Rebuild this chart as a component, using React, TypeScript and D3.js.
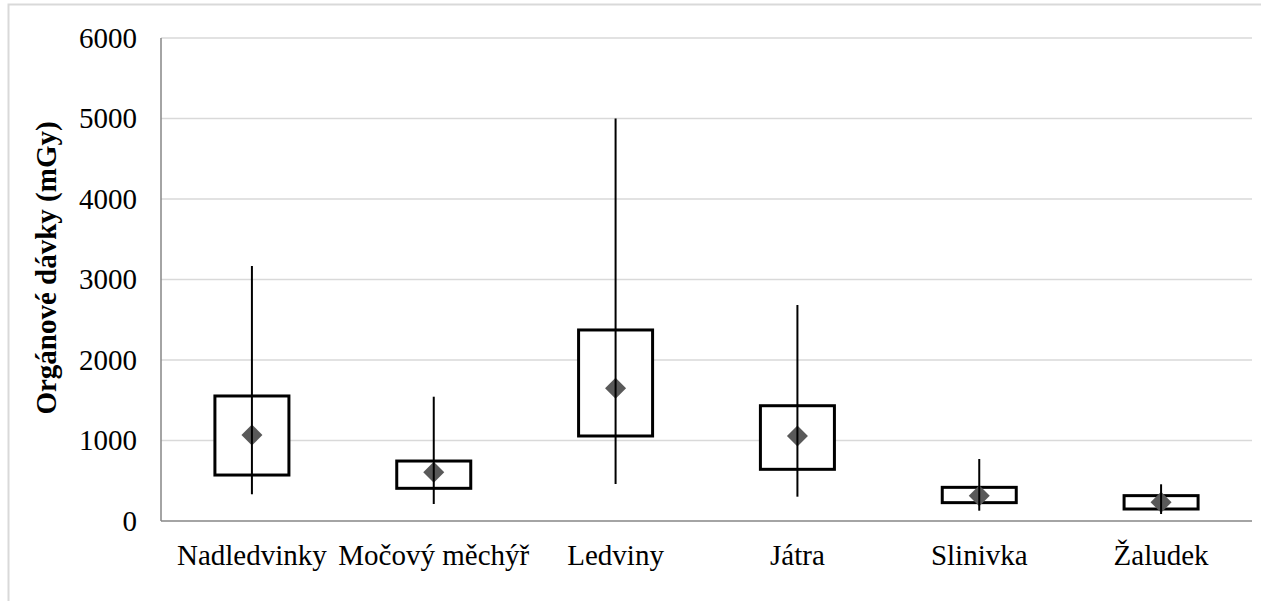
import React from "react";
import * as d3 from "d3";

const categories = ["Nadledvinky", "Močový měchýř", "Ledviny", "Játra", "Slinivka", "Žaludek"];
const minValues = [332, 211, 460, 302, 128, 87];
const q1Values = [571, 406, 1056, 642, 228, 149];
const q3Values = [1553, 745, 2373, 1432, 418, 315];
const maxValues = [3168, 1544, 5000, 2683, 770, 456];
const meanValues = [1068, 605, 1648, 1056, 315, 232];
const yTicks = [0, 1000, 2000, 3000, 4000, 5000, 6000];
const yTitle = "Orgánové dávky (mGy)";

const W = 1261;
const H = 601;
const plot = { left: 161, right: 1252, top: 38, bottom: 521 };
const FONT = "'Liberation Serif', 'Times New Roman', serif";

export default function App() {
  const x = d3.scaleBand<string>().domain(categories).range([plot.left, plot.right]).paddingInner(0).paddingOuter(0);
  const y = d3.scaleLinear().domain([0, 6000]).range([plot.bottom, plot.top]);
  const boxW = x.bandwidth() * 0.407;
  const dHalf = 10.5;

  return (
    <svg width={W} height={H} style={{ position: "absolute", left: 0, top: 0, background: "#fff" }}>
      <rect x={8.5} y={4.5} width={W + 20} height={H + 20} fill="#fff" stroke="#d9d9d9" strokeWidth={2} />
      {yTicks.map((t) =>
        t === 0 ? null : (
          <line key={"g" + t} x1={plot.left} x2={plot.right} y1={y(t)} y2={y(t)} stroke="#d9d9d9" strokeWidth={1.5} />
        )
      )}
      <line x1={plot.left} x2={plot.left} y1={plot.top} y2={plot.bottom} stroke="#868686" strokeWidth={1.5} />
      <line x1={plot.left} x2={plot.right} y1={plot.bottom} y2={plot.bottom} stroke="#868686" strokeWidth={1.5} />
      {yTicks.map((t) => (
        <text key={"t" + t} x={137} y={y(t) + 9.5} textAnchor="end" fontFamily={FONT} fontSize={29} fill="#000">
          {t}
        </text>
      ))}
      <text
        transform={`translate(56, 268) rotate(-90)`}
        textAnchor="middle"
        fontFamily={FONT}
        fontWeight="bold"
        fontSize={29}
        fill="#000"
      >
        {yTitle}
      </text>
      {categories.map((c, i) => {
        const cx = (x(c) as number) + x.bandwidth() / 2;
        const ym = y(meanValues[i]);
        return (
          <g key={c}>
            <rect
              x={cx - boxW / 2}
              y={y(q3Values[i])}
              width={boxW}
              height={y(q1Values[i]) - y(q3Values[i])}
              fill="#fff"
              stroke="#000"
              strokeWidth={3}
            />
            <path
              d={`M${cx},${ym - dHalf}L${cx + dHalf},${ym}L${cx},${ym + dHalf}L${cx - dHalf},${ym}Z`}
              fill="#595959"
            />
            <line x1={cx} x2={cx} y1={y(maxValues[i])} y2={y(minValues[i])} stroke="#000" strokeWidth={2} />
            <text x={cx} y={565} textAnchor="middle" fontFamily={FONT} fontSize={29} fill="#000">
              {c}
            </text>
          </g>
        );
      })}
    </svg>
  );
}
